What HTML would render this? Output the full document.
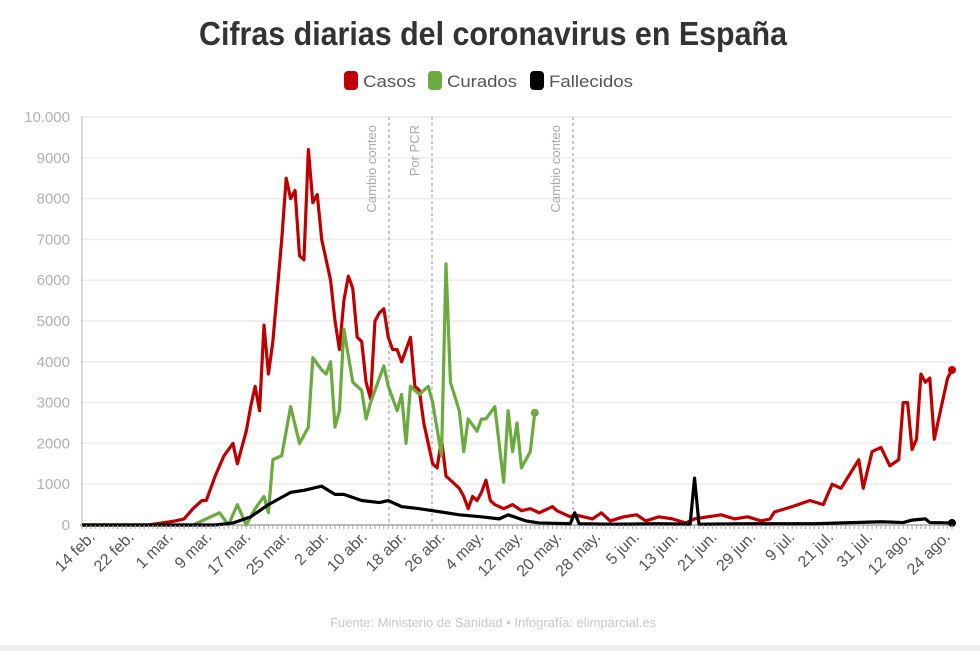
<!DOCTYPE html>
<html><head><meta charset="utf-8"><style>
body{margin:0;background:#fff;width:980px;height:651px;overflow:hidden;font-family:"Liberation Sans Narrow","Liberation Sans",sans-serif}
#bottom{position:absolute;left:0;top:645px;width:980px;height:6px;background:#eee}
</style></head><body>
<svg id="chart" width="980" height="651" style="position:absolute;left:0;top:0">
<text x="493" y="45" text-anchor="middle" font-size="33" font-weight="bold" fill="#333" textLength="588" lengthAdjust="spacingAndGlyphs">Cifras diarias del coronavirus en España</text>
<g font-size="17" fill="#555">
<g><rect x="344" y="71" width="14" height="19" rx="4" fill="#c00000"/><text x="363" y="87" textLength="53" lengthAdjust="spacingAndGlyphs">Casos</text></g>
<g><rect x="428" y="71" width="14" height="19" rx="4" fill="#6aaa3f"/><text x="447" y="87" textLength="70" lengthAdjust="spacingAndGlyphs">Curados</text></g>
<g><rect x="530" y="71" width="14" height="19" rx="4" fill="#000"/><text x="549" y="87" textLength="84" lengthAdjust="spacingAndGlyphs">Fallecidos</text></g>
</g>
<g id="grid"></g><g id="ann"></g><g id="series"></g><g id="xaxis"></g>
<text x="493" y="627" text-anchor="middle" font-size="13" fill="#c8c8c8">Fuente: Ministerio de Sanidad • Infografía: elimparcial.es</text>
</svg>
<div id="bottom"></div>
<script>
const yTicks=[0,1000,2000,3000,4000,5000,6000,7000,8000,9000,10000];
const yTickLabels=["0","1000","2000","3000","4000","5000","6000","7000","8000","9000","10.000"];
const xLabels=["14 feb.","22 feb.","1 mar.","9 mar.","17 mar.","25 mar.","2 abr.","10 abr.","18 abr.","26 abr.","4 may.","12 may.","20 may.","28 may.","5 jun.","13 jun.","21 jun.","29 jun.","9 jul.","21 jul.","31 jul.","12 ago.","24 ago."];
const totalDays=196;
const casosDias=[0,15,18,21,23,25,27,28,30,32,34,35,37,38,39,40,41,42,43,45,46,47,48,49,50,51,52,53,54,56,57,58,59,60,61,62,63,64,65,66,67,68,69,70,71,72,73,74,75,76,77,78,79,80,81,82,83,84,85,86,87,88,89,90,91,92,93,95,97,99,101,103,105,106,107,110,111,113,115,117,119,122,125,127,130,133,136,138,141,144,147,150,153,155,156,160,164,167,169,171,175,176,178,180,182,184,185,186,187,188,189,190,191,192,193,195,196];
const casos=[0,0,50,100,150,400,600,600,1200,1700,2000,1500,2300,2900,3400,2800,4900,3700,4500,7000,8500,8000,8200,6600,6500,9200,7900,8100,7000,6000,5000,4300,5500,6100,5800,4600,4500,3500,3100,5000,5200,5300,4600,4300,4300,4000,4300,4600,3400,3300,2500,2000,1500,1400,2100,1200,1100,1000,900,700,400,700,600,800,1100,600,500,400,500,350,400,300,400,450,350,200,250,200,150,300,100,200,250,100,200,150,50,150,200,250,150,200,100,150,320,450,600,500,1000,900,1600,900,1800,1900,1450,1600,3000,3000,1850,2100,3700,3500,3600,2100,2600,3600,3800];
const curadosDias=[0,25,31,33,35,37,39,41,42,43,45,47,49,51,52,54,55,56,57,58,59,61,63,64,65,68,69,71,72,73,74,76,78,79,81,82,83,85,86,87,89,90,91,93,95,96,97,98,99,101,102];
const curados=[0,0,300,0,500,0,400,700,300,1600,1700,2900,2000,2400,4100,3800,3700,4000,2400,2800,4800,3500,3300,2600,3000,3900,3400,2800,3200,2000,3400,3200,3400,3000,1700,6400,3500,2800,1800,2600,2300,2600,2600,2900,1050,2800,1800,2500,1400,1800,2750];
const fallDias=[0,30,34,38,42,47,50,54,57,59,63,67,69,72,76,79,82,85,90,94,96,100,103,110,111,112,120,130,137,138,139,150,165,180,185,187,190,191,196];
const fallecidos=[0,0,50,200,500,800,850,950,750,750,600,550,600,450,400,350,300,250,200,150,250,100,50,30,300,30,20,30,20,1150,20,30,30,80,60,120,150,60,50];

const NS="http://www.w3.org/2000/svg";
const X0=82,X1=952,Y0=525,Y1=117;
const xs=d=>X0+d/totalDays*(X1-X0);
const ys=v=>Y0-v/10000*(Y0-Y1);
function mk(t,a,p){const e=document.createElementNS(NS,t);for(const k in a)e.setAttribute(k,a[k]);p.appendChild(e);return e;}
const grid=document.getElementById('grid');
yTicks.forEach((v,i)=>{
 const l=mk('line',{x1:X0-2,x2:X1,y1:ys(v),y2:ys(v),stroke:i?'#ececec':'#bbb','stroke-width':i?1.5:2},grid);
 
 
 const t=mk('text',{x:X0-12,y:ys(v)+5,'text-anchor':'end','font-size':15,fill:'#b0b0b0'},grid);
 t.textContent=yTickLabels[i];
 
 
});
const ax=mk('line',{x1:X0,x2:X0,y1:Y1,y2:Y0,stroke:'#ccc','stroke-width':1.5},grid);


const ann=document.getElementById('ann');
[[389,"Cambio conteo",376],[432,"Por PCR",419],[573,"Cambio conteo",560]].forEach(a=>{
 const l=mk('line',{x1:a[0],x2:a[0],y1:Y1,y2:Y0,stroke:'#aaa','stroke-width':1.3,'stroke-dasharray':'3,3'},ann);
 
 
 const t=mk('text',{x:0,y:0,'text-anchor':'end','font-size':13,fill:'#aaa',transform:`translate(${a[2]},125) rotate(-90)`},ann);
 t.textContent=a[1];
 
 
});
const xa=document.getElementById('xaxis');
for(let d=0;d<=totalDays;d++){mk('line',{x1:xs(d),x2:xs(d),y1:Y0,y2:Y0+4,stroke:'#aaa','stroke-width':1},xa);}
const step=(950-95)/(xLabels.length-1);
xLabels.forEach((s,i)=>{
 const t=mk('text',{x:0,y:0,'text-anchor':'end','font-size':16,fill:'#555',transform:`translate(${96+i*step},538) rotate(-45)`},xa);
 t.textContent=s;
 
 
});
const ser=document.getElementById('series');
function line(days,vals,color,name){
 const p=mk('polyline',{points:days.map((d,i)=>xs(d)+','+ys(vals[i])).join(' '),fill:'none',stroke:color,'stroke-width':3.2,'stroke-linejoin':'round'},ser);
 
 
 const n=days.length-1;
 const c=mk('circle',{cx:xs(days[n]),cy:ys(vals[n]),r:4,fill:color},ser);
 
 
}
line(casosDias,casos,'#c00000','casos-line');
line(curadosDias,curados,'#6aaa3f','curados-line');
line(fallDias,fallecidos,'#000','fallecidos-line');
</script>
</body></html>
